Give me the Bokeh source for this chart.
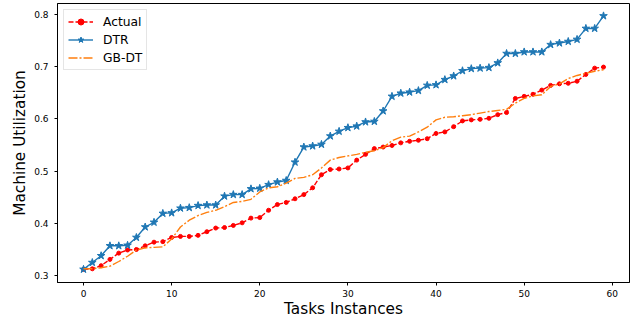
from bokeh.plotting import figure
from bokeh.models import Range1d, FixedTicker, Legend, LegendItem, ColumnDataSource
from bokeh.embed import file_html
from bokeh.resources import INLINE

tasks = list(range(60))
actual = [0.312, 0.313, 0.319, 0.331, 0.343, 0.349, 0.350, 0.357, 0.364, 0.365,
          0.373, 0.375, 0.375, 0.377, 0.384, 0.391, 0.392, 0.396, 0.401, 0.410,
          0.411, 0.425, 0.436, 0.440, 0.447, 0.455, 0.468, 0.493, 0.503, 0.504,
          0.506, 0.521, 0.532, 0.543, 0.546, 0.549, 0.554, 0.557, 0.559, 0.562,
          0.572, 0.575, 0.585, 0.596, 0.598, 0.599, 0.601, 0.608, 0.612, 0.639,
          0.643, 0.647, 0.655, 0.664, 0.667, 0.668, 0.672, 0.685, 0.697, 0.699]
dtr = [0.312, 0.325, 0.338, 0.357, 0.357, 0.358, 0.373, 0.393, 0.402, 0.419,
       0.420, 0.429, 0.430, 0.434, 0.435, 0.435, 0.452, 0.455, 0.455, 0.466,
       0.467, 0.474, 0.479, 0.482, 0.517, 0.546, 0.548, 0.551, 0.567, 0.576,
       0.583, 0.586, 0.594, 0.595, 0.615, 0.643, 0.649, 0.651, 0.654, 0.664,
       0.665, 0.675, 0.682, 0.692, 0.696, 0.697, 0.698, 0.707, 0.725, 0.725,
       0.728, 0.728, 0.728, 0.742, 0.745, 0.748, 0.752, 0.773, 0.773, 0.797]
gbdt = [0.313, 0.313, 0.315, 0.318, 0.327, 0.337, 0.349, 0.353, 0.354, 0.355,
        0.370, 0.393, 0.406, 0.415, 0.421, 0.425, 0.432, 0.440, 0.442, 0.446,
        0.460, 0.468, 0.470, 0.477, 0.486, 0.488, 0.493, 0.506, 0.521, 0.526,
        0.529, 0.532, 0.536, 0.539, 0.545, 0.558, 0.565, 0.567, 0.575, 0.584,
        0.598, 0.603, 0.604, 0.606, 0.608, 0.611, 0.614, 0.616, 0.618, 0.630,
        0.639, 0.644, 0.646, 0.662, 0.667, 0.677, 0.683, 0.687, 0.691, 0.694]
x_ticks = [0, 10, 20, 30, 40, 50, 60]
y_ticks = [0.3, 0.4, 0.5, 0.6, 0.7, 0.8]

src = ColumnDataSource(data=dict(x=tasks, actual=actual, dtr=dtr, gbdt=gbdt))

FONT = "DejaVu Sans"

p = figure(width=641, height=320,
           x_range=Range1d(-2.95, 61.95), y_range=Range1d(0.2868, 0.8207),
           output_backend="svg", toolbar_location=None,
           min_border_left=57, min_border_right=12, min_border_top=3,
           min_border_bottom=38)

p.xgrid.visible = False
p.ygrid.visible = False
p.outline_line_color = "black"
p.outline_line_width = 1
p.background_fill_color = "white"
p.border_fill_color = "white"

for ax in (p.xaxis[0], p.yaxis[0]):
    ax.axis_line_color = "black"
    ax.major_tick_line_color = "black"
    ax.major_tick_in = 0
    ax.major_tick_out = 3
    ax.minor_tick_line_color = None
    ax.major_label_text_font = FONT
    ax.major_label_text_font_size = "9px"
    ax.major_label_text_color = "black"
    ax.axis_label_text_font = FONT
    ax.axis_label_text_font_size = "15.3px"
    ax.axis_label_text_font_style = "normal"
    ax.axis_label_text_color = "black"

p.xaxis.ticker = FixedTicker(ticks=x_ticks)
p.yaxis.ticker = FixedTicker(ticks=y_ticks)
p.xaxis.axis_label = "Tasks Instances"
p.yaxis.axis_label = "Machine Utilization"
p.xaxis.major_label_standoff = 4
p.xaxis.axis_label_standoff = 0
p.yaxis.major_label_standoff = 6
p.yaxis.axis_label_standoff = 2

r_act_l = p.line("x", "actual", source=src, line_color="#ff0000", line_width=1.4, line_dash="5 2")
r_act_m = p.scatter("x", "actual", source=src, marker="circle", size=4,
                    fill_color="#ff0000", line_color="#ff0000")
r_dtr_l = p.line("x", "dtr", source=src, line_color="#1f77b4", line_width=1.4)
r_dtr_m = p.scatter("x", "dtr", source=src, marker="star", size=8,
                    fill_color="#1f77b4", line_color="#1f77b4")
r_gb = p.line("x", "gbdt", source=src, line_color="#ff7f0e", line_width=1.4, line_dash="9 2 2 2")

legend = Legend(items=[
    LegendItem(label="Actual", renderers=[r_act_l, r_act_m]),
    LegendItem(label="DTR", renderers=[r_dtr_l, r_dtr_m]),
    LegendItem(label="GB-DT", renderers=[r_gb]),
], location="top_left")
legend.margin = 6
legend.padding = 4
legend.spacing = 3
legend.glyph_width = 25
legend.glyph_height = 15
legend.label_height = 15
legend.label_standoff = 10
legend.label_text_font = FONT
legend.label_text_font_size = "12.3px"
legend.label_text_color = "black"
legend.border_line_color = "#cccccc"
legend.border_line_width = 1
legend.background_fill_color = "white"
legend.background_fill_alpha = 0.8
p.add_layout(legend, "center")

open("out.html", "w").write(file_html(p, INLINE))
